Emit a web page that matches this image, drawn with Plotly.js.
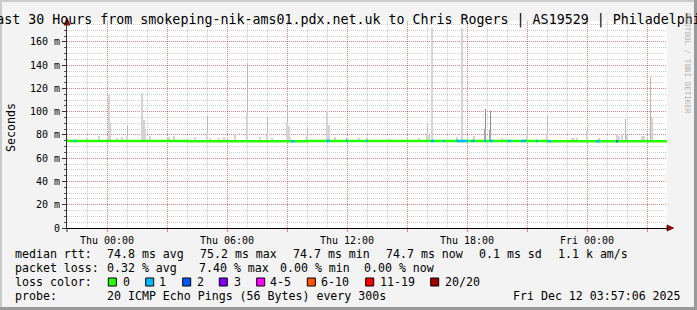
<!DOCTYPE html>
<html><head><meta charset="utf-8">
<script src="https://cdn.plot.ly/plotly-3.0.1.min.js"></script>
<style>html,body{margin:0;padding:0;background:#f3f3f3;overflow:hidden}#chart{width:697px;height:310px}</style>
</head><body><div id="chart"></div>
<script>
// ---------------- data ----------------
const smokeTimes = ["2025-12-10 22:00","2025-12-10 23:00","2025-12-10 23:35","2025-12-11 00:05","2025-12-11 00:10","2025-12-11 00:30","2025-12-11 00:45","2025-12-11 01:00","2025-12-11 01:45","2025-12-11 01:50","2025-12-11 01:55","2025-12-11 02:10","2025-12-11 03:05","2025-12-11 03:20","2025-12-11 04:25","2025-12-11 05:00","2025-12-11 05:10","2025-12-11 05:35","2025-12-11 05:50","2025-12-11 06:25","2025-12-11 07:00","2025-12-11 07:40","2025-12-11 08:00","2025-12-11 08:15","2025-12-11 09:00","2025-12-11 09:05","2025-12-11 09:10","2025-12-11 10:00","2025-12-11 11:00","2025-12-11 11:05","2025-12-11 11:25","2025-12-11 12:00","2025-12-11 12:35","2025-12-11 13:00","2025-12-11 14:10","2025-12-11 15:35","2025-12-11 16:00","2025-12-11 16:05","2025-12-11 16:15","2025-12-11 17:30","2025-12-11 17:45","2025-12-11 18:20","2025-12-11 19:45","2025-12-11 21:00","2025-12-11 22:00","2025-12-11 23:15","2025-12-11 23:20","2025-12-11 23:30","2025-12-12 00:00","2025-12-12 00:35","2025-12-12 01:30","2025-12-12 01:35","2025-12-12 01:45","2025-12-12 02:00","2025-12-12 02:45","2025-12-12 02:50","2025-12-12 03:15"];
const smokeTop = [77,77,79,114,90,77,78,79,116,93,84,79,78,79,78,82,77,77,78,81,99,78,82,77,91,88,78,79,101,89,78,78,77,77,76.5,77,82,80,172,78,172,79,77,80,81,77,77,77,83,77,81,79,81,80,79,79,95];
const outlierTimes = ["2025-12-11 01:00","2025-12-11 05:00","2025-12-11 07:00","2025-12-11 08:00","2025-12-11 09:00","2025-12-11 10:00","2025-12-11 16:00","2025-12-11 21:00","2025-12-11 22:00","2025-12-12 00:00","2025-12-12 01:55","2025-12-12 03:10"];
const outlierTop = [88,96,142,95,105,87,90,86,96,86,94,130];
const lossSmokeTimes = ["2025-12-11 18:55","2025-12-11 19:10"];
const lossSmokeTop = [85,84];
const lossSmokeMax = [102,101];
const medianTimes = ["2025-12-10 22:00","2025-12-11 04:00","2025-12-11 10:00","2025-12-11 16:00","2025-12-11 22:00","2025-12-12 04:00"];
const medianValues = [74.8,74.7,74.9,74.8,74.7,74.7];
const lossTimes = ["2025-12-10 22:25","2025-12-11 09:15","2025-12-11 09:20","2025-12-11 11:00","2025-12-11 11:05","2025-12-11 12:00","2025-12-11 13:00","2025-12-11 16:15","2025-12-11 16:20","2025-12-11 16:50","2025-12-11 17:30","2025-12-11 17:35","2025-12-11 17:40","2025-12-11 17:45","2025-12-11 17:50","2025-12-11 17:55","2025-12-11 18:00","2025-12-11 18:15","2025-12-11 18:20","2025-12-11 18:55","2025-12-11 19:10","2025-12-11 19:15","2025-12-11 20:05","2025-12-11 20:10","2025-12-11 20:45","2025-12-11 20:50","2025-12-11 20:55","2025-12-11 21:30","2025-12-11 22:05","2025-12-11 22:10","2025-12-12 00:30","2025-12-12 00:35","2025-12-12 01:30"];
const lossCounts = [1,1,1,1,1,1,1,1,1,1,1,1,1,1,1,1,1,1,1,1,1,1,1,1,1,1,1,1,1,1,1,1,2];
const lossColorLabels = ["0","1","2","3","4-5","6-10","11-19","20/20"];
const lossColorValues = ["#26ff00","#00b8ff","#0059ff","#7e00ff","#ff00ff","#ff5500","#ff0000","#a10000"];
const yTickValues = [0,20,40,60,80,100,120,140,160];
const yTickLabels = ["0","20 m","40 m","60 m","80 m","100 m","120 m","140 m","160 m"];
const xLabelTimes = ["2025-12-11 00:00","2025-12-11 06:00","2025-12-11 12:00","2025-12-11 18:00","2025-12-12 00:00"];
const xLabelTexts = ["Thu 00:00","Thu 06:00","Thu 12:00","Thu 18:00","Fri 00:00"];
const rttLabel = "median rtt:";
const rttStats = ["74.8 ms avg","75.2 ms max","74.7 ms min","74.7 ms now","0.1 ms sd","1.1 k am/s"];
const lossLabel = "packet loss:";
const lossStats = ["0.32 % avg","7.40 % max","0.00 % min","0.00 % now"];
const probeLabel = "probe:";
const probeText = "20 ICMP Echo Pings (56 Bytes) every 300s";
const stampText = "Fri Dec 12 03:57:06 2025";
const titleText = "Last 30 Hours from smokeping-nik-ams01.pdx.net.uk to Chris Rogers | AS19529 | Philadelphia";
const rangeStart = "2025-12-10 22:00", rangeEnd = "2025-12-12 04:00";

// ---------------- helpers ----------------
const MONO = "DejaVu Sans Mono";
const W = 697, H = 310, L = 67, R = 667, T = 21, B = 228;
function ms(s){const m=s.match(/(\d+)-(\d+)-(\d+) (\d+):(\d+)/);return Date.UTC(+m[1],+m[2]-1,+m[3],+m[4],+m[5]);}
function px(x){return (x-L)/(R-L);}
function py(y){return (B-y)/(B-T);}
const STEP = 300000;
const medMs = medianTimes.map(ms);
function medianAt(t){let v=medianValues[0];for(let i=0;i<medMs.length;i++){if(medMs[i]<=t)v=medianValues[i];}return v;}
const nb = s => s.replace(/ /g,"\u00a0");

const traces = [];
function barTrace(times, tops, width, color){
  const x = times.map(ms);
  const base = x.map(medianAt);
  return {type:"bar", x:x, y:tops.map((v,i)=>v-base[i]), base:base, width:x.map(()=>width),
    marker:{color:color, line:{width:0}}, hoverinfo:"skip", showlegend:false};
}
traces.push(barTrace(outlierTimes, outlierTop, 180000, "#b8b8b8"));
traces.push(barTrace(smokeTimes, smokeTop, 400000, "#d4d4d4"));
traces.push(barTrace(lossSmokeTimes, lossSmokeMax, 180000, "#8e8e8e"));
traces.push(barTrace(lossSmokeTimes, lossSmokeTop, 400000, "#a4a4a4"));
// median line (green = no loss)
traces.push({type:"scatter", mode:"lines", x:medMs, y:medianValues, line:{color:lossColorValues[0], width:2.5, shape:"hv"}, hoverinfo:"skip", showlegend:false});
// loss coloured segments
function levelOf(c){if(c<=3)return c; if(c<=5)return 4; if(c<=10)return 5; if(c<=19)return 6; return 7;}
for(let lv=1; lv<lossColorValues.length; lv++){
  const xs=[], ys=[];
  lossTimes.forEach((t,i)=>{ if(levelOf(lossCounts[i])===lv){const c=ms(t); const m=medianAt(c); xs.push(c-STEP/2,c+STEP/2,null); ys.push(m,m,null);} });
  if(xs.length) traces.push({type:"scatter", mode:"lines", x:xs, y:ys, connectgaps:false, line:{color:lossColorValues[lv], width:2.5}, hoverinfo:"skip", showlegend:false});
}

// x ticks every 3 hours, labels every 6
const majorVals=[], majorText=[];
for(let t=ms("2025-12-11 00:00"); t<ms(rangeEnd); t+=3*3600000){
  majorVals.push(t);
  const k = xLabelTimes.map(ms).indexOf(t);
  majorText.push(k>=0 ? xLabelTexts[k] : "");
}

// ---------------- annotations ----------------
const ann = [];
function txt(x, y, s, opts){ann.push(Object.assign({xref:"paper", yref:"paper", x:px(x), y:py(y), text:nb(s), showarrow:false, xanchor:"left", yanchor:"middle", borderpad:0, borderwidth:0, font:{family:MONO, size:11.6, color:"#000"}}, opts||{}));}
txt(15.3, 254, rttLabel);
[106.6,200,292.6,386,478.6,557.6].forEach((x,i)=>txt(x,254,rttStats[i]));
txt(15.3, 268, lossLabel);
[106.6,199.3,279.6,364.3].forEach((x,i)=>txt(x,268,lossStats[i]));
txt(15.3, 282, "loss color:");
const boxX = [108.3,145.7,182.7,219.3,256.7,307.3,365.7,430.7];
const labX = [122.6,159.3,196.6,233.6,270.3,321,380,445.3];
labX.forEach((x,i)=>txt(x,282,lossColorLabels[i]));
txt(15.3, 296, probeLabel);
txt(106.6, 296, probeText);
txt(512.6, 296, stampText);
// y-axis title
ann.push({xref:"paper", yref:"paper", x:px(10.5), y:py(127.5), text:"Seconds", textangle:-90, showarrow:false, xanchor:"center", yanchor:"middle", borderpad:0, font:{family:MONO, size:11.6, color:"#000"}});
// watermark
ann.push({xref:"paper", yref:"paper", x:px(687.5), y:py(63.5), text:nb("RRDTOOL / TOBI OETIKER"), textangle:90, showarrow:false, xanchor:"center", yanchor:"middle", borderpad:0, font:{family:MONO, size:7.6, color:"#b0b0b0"}});

// ---------------- shapes ----------------
const shapes = [];
function rectPx(x0,y0,x1,y1,fill,line){shapes.push({type:"rect", xref:"paper", yref:"paper", x0:px(x0), x1:px(x1), y0:py(y0), y1:py(y1), fillcolor:fill, line: line||{width:0}, layer:"above"});}
boxX.forEach((x,i)=>rectPx(x,278,x+8,286,lossColorValues[i],{color:"#000",width:1}));
// frame
rectPx(0,0,W,2,"#cbcbcb"); rectPx(0,0,2,H,"#cbcbcb");
rectPx(W-3,0,W,H,"#9a9a9a"); rectPx(0,H-3,W,H,"#9a9a9a");
// arrows
function pathPx(pts,color){const d="M"+pts.map(p=>px(p[0])+","+py(p[1])).join(" L")+" Z"; shapes.push({type:"path", xref:"paper", yref:"paper", path:d, fillcolor:color, line:{color:color,width:1}, layer:"above"});}
pathPx([[67,18.5],[64,25],[70,25]],"#7f1010");
pathPx([[673.5,228],[667,225],[667,231]],"#7f1010");
shapes.push({type:"line", xref:"paper", yref:"paper", x0:px(667), x1:px(668), y0:py(228), y1:py(228), line:{color:"#000",width:1}, layer:"above"});
shapes.push({type:"line", xref:"paper", yref:"paper", x0:px(67), x1:px(67), y0:py(228), y1:py(232), line:{color:"#333",width:1}, layer:"above"});

const layout = {
  width:W, height:H, margin:{l:L, r:W-R, t:T, b:H-B, pad:0},
  paper_bgcolor:"#f3f3f3", plot_bgcolor:"#ffffff",
  barmode:"overlay", bargap:0, showlegend:false,
  title:{text:titleText, x:0.5, xref:"container", xanchor:"center", y:1-19/H, yanchor:"middle", font:{family:MONO, size:13.3, color:"#000"}},
  xaxis:{type:"date", range:[ms(rangeStart), ms(rangeEnd)], tickmode:"array", tickvals:majorVals, ticktext:majorText,
    showgrid:true, gridcolor:"rgba(255,0,0,0.38)", griddash:"1px,1px", gridwidth:1,
    ticks:"outside", ticklen:3, tickcolor:"rgba(255,0,0,0.5)", tickwidth:1,
    tickfont:{family:MONO, size:10, color:"#000"},
    showline:true, linecolor:"#000", linewidth:1, zeroline:false, fixedrange:true,
    minor:{tickmode:"linear", tick0:ms(rangeStart), dtick:3600000, showgrid:true, gridcolor:"rgba(128,128,128,0.38)", griddash:"1px,1px", gridwidth:1, ticks:""}},
  yaxis:{range:[0,178], tickmode:"array", tickvals:yTickValues, ticktext:yTickLabels,
    showgrid:true, gridcolor:"rgba(255,0,0,0.38)", griddash:"1px,1px", gridwidth:1,
    ticks:"outside", ticklen:4, tickcolor:"#333", tickwidth:1,
    tickfont:{family:MONO, size:10, color:"#000"},
    showline:true, linecolor:"#333", linewidth:1, zeroline:false, fixedrange:true,
    minor:{tickmode:"linear", tick0:0, dtick:5, showgrid:true, gridcolor:"rgba(128,128,128,0.38)", griddash:"1px,1px", gridwidth:1, ticks:"outside", ticklen:2, tickcolor:"#555"}},
  annotations:ann, shapes:shapes
};
Plotly.newPlot("chart", traces, layout, {staticPlot:true, displayModeBar:false});
</script></body></html>
